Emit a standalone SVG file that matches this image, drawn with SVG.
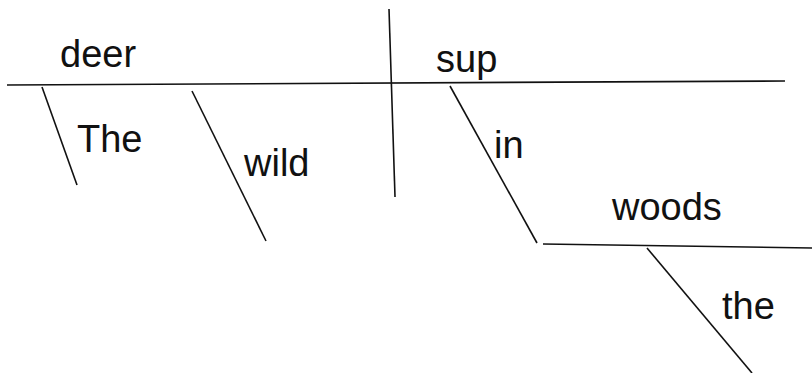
<svg xmlns="http://www.w3.org/2000/svg" width="812" height="373" viewBox="0 0 812 373">
  <style>
    .ln { stroke: #111; stroke-width: 1.6; fill: none; stroke-linecap: butt; }
    .w { font-family: "Liberation Sans", Arial, sans-serif; font-size: 38px; fill: #111; }
  </style>
  <rect width="812" height="373" fill="#fff"/>
  <!-- diagram lines: base line, divider, modifier slants, object of preposition line -->
  <g id="lines">
    <line class="ln" x1="7" y1="85" x2="785" y2="81"/>
    <line class="ln" x1="389" y1="9" x2="395" y2="197"/>
    <line class="ln" x1="42" y1="87" x2="77" y2="185"/>
    <line class="ln" x1="192" y1="91" x2="266" y2="241"/>
    <line class="ln" x1="450" y1="86" x2="537" y2="243"/>
    <line class="ln" x1="543" y1="244" x2="812" y2="248"/>
    <line class="ln" x1="647" y1="248" x2="752" y2="373"/>
  </g>
  <g id="deer"><text class="w" x="60" y="67">deer</text></g>
  <g id="The"><text class="w" x="77" y="152">The</text></g>
  <g id="wild"><text class="w" x="244" y="176">wild</text></g>
  <g id="sup"><text class="w" x="436" y="72">sup</text></g>
  <g id="in"><text class="w" x="494" y="158">in</text></g>
  <g id="woods"><text class="w" x="612" y="220">woods</text></g>
  <g id="the"><text class="w" x="722" y="319">the</text></g>
</svg>
